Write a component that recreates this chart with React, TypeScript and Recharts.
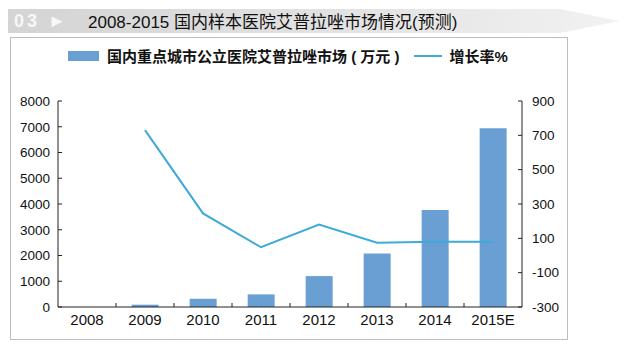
import React from 'react';
import { ComposedChart, Bar, Line, XAxis, YAxis, Legend } from 'recharts';

const categories = ['2008', '2009', '2010', '2011', '2012', '2013', '2014', '2015E'];
const marketValues = [0, 90, 320, 490, 1200, 2080, 3770, 6940];
const growthValues: (number | null)[] = [null, 730, 245, 48, 180, 75, 80, 80];
const leftTicks = [0, 1000, 2000, 3000, 4000, 5000, 6000, 7000, 8000];
const rightTicks = [-300, -100, 100, 300, 500, 700, 900];

const title = '2008-2015 国内样本医院艾普拉唑市场情况(预测)';
const barName = '国内重点城市公立医院艾普拉唑市场(万元)';
const lineName = '增长率%';

const data = categories.map((c, i) => ({ cat: c, market: marketValues[i], growth: growthValues[i] }));

const FONT = 'Arial, "Liberation Sans", "Noto Sans CJK SC", sans-serif';
const BAR_COLOR = '#6a9fd4';
const LINE_COLOR = '#3eaad8';

const XTick = (props: any) => {
  const { x, y, payload, index } = props;
  const half = 29;
  const isLast = index === categories.length - 1;
  return (
    <g>
      {!isLast && (
        <line x1={x + half} x2={x + half} y1={y - 6} y2={y - 10} stroke="#222" strokeWidth={1} />
      )}
      <text x={x} y={y} dy="0.78em" textAnchor="middle" fontSize={15} fill="#111" fontFamily={FONT}>
        {payload.value}
      </text>
    </g>
  );
};

const LegendContent = () => (
  <div style={{ display: 'flex', alignItems: 'center', fontFamily: FONT, fontSize: 15, color: '#111', fontWeight: 'bold', whiteSpace: 'nowrap' }}>
    <span style={{ display: 'inline-block', width: 31, height: 10, background: BAR_COLOR, marginRight: 8 }} />
    <span>国内重点城市公立医院艾普拉唑市场 ( 万元 )</span>
    <span style={{ display: 'inline-block', width: 28, height: 2, background: LINE_COLOR, marginLeft: 14, marginRight: 8 }} />
    <span>{lineName}</span>
  </div>
);

export default function App() {
  return (
    <div style={{ position: 'absolute', left: 0, top: 0, width: 640, height: 352, background: '#fff', overflow: 'hidden' }}>
      <svg width={640} height={352} style={{ position: 'absolute', left: 0, top: 0 }}>
        <defs>
          <linearGradient id="bannerGrad" x1="0" x2="1" y1="0" y2="0">
            <stop offset="0" stopColor="#d4d4d4" />
            <stop offset="0.6" stopColor="#e4e4e4" />
            <stop offset="1" stopColor="#f2f2f2" />
          </linearGradient>
        </defs>
        <polygon points="8,9 560,9 620,21 560,33 8,33" fill="url(#bannerGrad)" />
        <text x={14} y={27} fontSize={18} fontWeight="bold" fill="#f7f7f7" fontFamily={FONT} letterSpacing={3}>03 ►</text>
        <text x={88} y={28} fontSize={17} fill="#111" fontFamily={FONT}>{title}</text>
        <rect x={10.5} y={37.5} width={557} height={302} fill="#fff" stroke="#bdbdbd" strokeWidth={1} />
      </svg>
      <div style={{ position: 'absolute', left: 0, top: 0 }}>
        <ComposedChart width={640} height={352} data={data} margin={{ top: 80, right: 78, bottom: 15, left: 18 }} barCategoryGap="27%">
          <XAxis
            dataKey="cat"
            height={30}
            tickLine={false}
            tickSize={0}
            tickMargin={6}
            interval={0}
            axisLine={{ stroke: '#222', strokeWidth: 1 }}
            tick={<XTick />}
          />
          <YAxis
            yAxisId="left"
            orientation="left"
            width={40}
            domain={[0, 8000]}
            ticks={leftTicks}
            interval={0}
            tickSize={-4}
            tickMargin={12}
            axisLine={{ stroke: '#222', strokeWidth: 1 }}
            tickLine={{ stroke: '#222' }}
            tick={{ fontSize: 13.5, fill: '#111', fontFamily: FONT }}
          />
          <YAxis
            yAxisId="right"
            orientation="right"
            width={40}
            domain={[-300, 900]}
            ticks={rightTicks}
            interval={0}
            tickSize={-4}
            tickMargin={14}
            axisLine={{ stroke: '#222', strokeWidth: 1 }}
            tickLine={{ stroke: '#222' }}
            tick={{ fontSize: 13.5, fill: '#111', fontFamily: FONT }}
          />
          <Legend
            verticalAlign="top"
            align="left"
            content={<LegendContent />}
            wrapperStyle={{ position: 'absolute', top: 45, left: 68, width: 500 }}
          />
          <Bar yAxisId="left" dataKey="market" name={barName} fill={BAR_COLOR} isAnimationActive={false} />
          <Line
            yAxisId="right"
            dataKey="growth"
            name={lineName}
            stroke={LINE_COLOR}
            strokeWidth={2}
            dot={false}
            activeDot={false}
            connectNulls={false}
            isAnimationActive={false}
          />
        </ComposedChart>
      </div>
    </div>
  );
}
